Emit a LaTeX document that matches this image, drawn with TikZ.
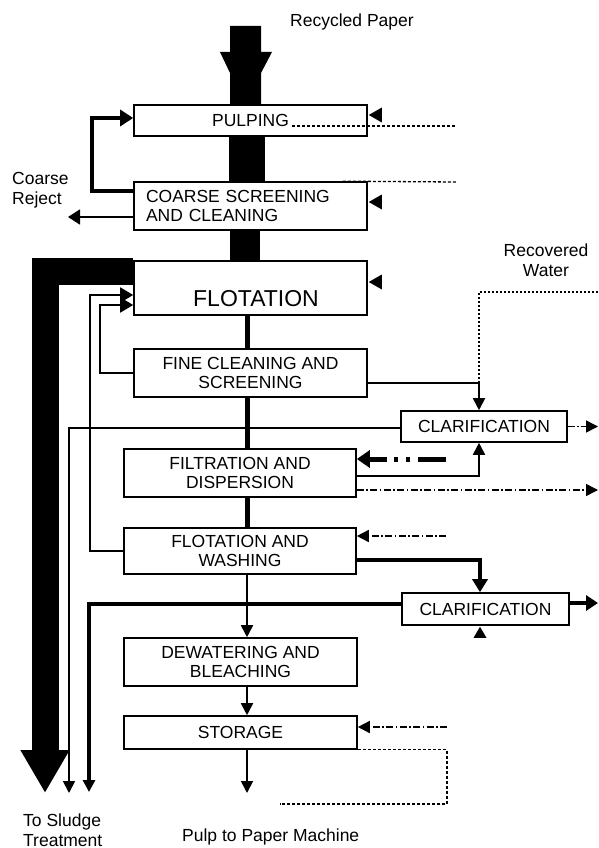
\documentclass[tikz,border=0pt]{standalone}
\usepackage{fontspec}
\setmainfont{Liberation Sans}
\usetikzlibrary{arrows.meta,positioning,calc}

\begin{document}
\begin{tikzpicture}[
		x=1pt, y=-1pt,
		% Styles
		stage/.style={rectangle, draw=black, line width=1.6pt, fill=white, minimum width=233pt, minimum height=48pt, inner sep=0pt, align=center, font=\fontsize{17.5}{19}\selectfont},
		clarifier/.style={stage, minimum width=166pt, minimum height=31pt},
		note/.style={font=\fontsize{17.5}{19.5}\selectfont, inner sep=0pt},
		% Arrows
		pulpflow/.style={line width=5pt},
		thinflow/.style={line width=1.8pt},
		thickflow/.style={line width=4.5pt},
		flowtip/.style={-{Triangle[length=12pt, width=12pt]}},
		bigtip/.style={-{Triangle[length=13pt, width=15pt]}},
		waterflow/.style={line width=1.5pt, dash pattern=on 7pt off 2.5pt on 1.5pt off 2.5pt},
		waterdot/.style={line width=1.5pt, dash pattern=on 1.6pt off 2.4pt},
		dotline/.style={line width=1.3pt, dash pattern=on 3pt off 2pt},
		]
		\useasboundingbox (0,0) rectangle (598,848);

		% Labels
		\node[note, anchor=base] (paperlbl) at (352,27) {Recycled Paper};
		\node[note, anchor=base west, align=left] (rejectlbl) at (12,204) {Coarse\\Reject};
		\node[note, anchor=base, align=center] (waterlbl) at (546,276) {Recovered\\Water};
		\node[note, anchor=base west, align=left] (sludgelbl) at (23,846) {To Sludge\\Treatment};
		\node[note, anchor=base west] (machinelbl) at (182,841) {Pulp to Paper Machine};

		% Process stages
		\node[stage, minimum height=31pt] (pulp) at (250.5,120.5) {PULPING};
		\node[stage, text width=209pt, inner xsep=12pt, align=left] (coarse) at (250.5,206) {COARSE SCREENING\\AND CLEANING};
		\node[stage, minimum height=54pt] (flot) at (250.5,288) {};
		\node[font=\fontsize{23}{25}\selectfont, inner sep=0pt] (flottext) at (256,298.5) {FLOTATION};
		\node[stage] (fine) at (250.5,373) {FINE CLEANING AND\\SCREENING};
		\node[clarifier] (clar1) at (484,426.5) {CLARIFICATION};
		\node[stage, minimum width=232pt] (filt) at (240,473) {FILTRATION AND\\DISPERSION};
		\node[stage, minimum width=232pt, minimum height=46pt] (fw) at (240,551) {FLOTATION AND\\WASHING};
		\node[clarifier, minimum width=167pt, minimum height=32pt] (clar2) at (485.5,609) {CLARIFICATION};
		\node[stage] (dew) at (240.5,662) {DEWATERING AND\\BLEACHING};
		\node[stage, minimum height=33pt] (stor) at (240.5,732.5) {STORAGE};

		% Free ends and junctions
		\coordinate (paper) at (245.5,26);
		\coordinate (col) at (247,0);
		\coordinate (reject) at (68,217);
		\coordinate (rwin) at (598,292);
		\coordinate (jct1) at (479,383);
		\coordinate (jct2) at (480,560);
		\coordinate (rightedge) at (598,0);
		\coordinate (filtin) at (446,459);
		\coordinate (fwin) at (446,536);
		\coordinate (storin) at (447,727);
		\coordinate (storloop) at (280,804);
		\coordinate (pulpdot) at (456,126);
		\coordinate (coarsedot) at (456,182);
		\coordinate (sludge) at (45,793);
		\coordinate (sludge1) at (69,793);
		\coordinate (sludge2) at (89,792);
		\coordinate (machine) at (247,793);

		% Connections
		% Recycled paper → Pulping → Coarse screening → Flotation
		\fill ($(paper)+(-15.5,0)$) -- ($(paper)+(15.5,0)$) -- ($(paper)+(15.5,26)$) -- ($(paper)+(26.5,26)$)
			-- ($(paper)+(15.5,47)$) -- ($(pulp.north)+(10.5,0)$) -- ($(pulp.north)+(-20.5,0)$)
			-- ($(paper)+(-15.5,47)$) -- ($(paper)+(-25.5,26)$) -- ($(paper)+(-15.5,26)$) -- cycle;
		\draw[line width=36pt] ($(pulp.south)+(-4,0)$) -- ($(coarse.north)+(-4,0)$);
		\draw[line width=30pt] ($(coarse.south)+(-5.5,0)$) -- ($(flot.north)+(-5.5,0)$);

		% Coarse screening recycle and reject
		\draw[thickflow, -{Triangle[length=13pt, width=16pt]}] ($(coarse.west)+(0,-15)$) -| ($(pulp.west)+(-41,-2.5)$) -- ($(pulp.west)+(0,-2.5)$);
		\draw[thinflow, -{Triangle[length=12pt, width=15pt]}] (coarse.west |- reject) -- (reject);

		% Flotation reject to sludge
		\draw[line width=27pt, -{Triangle[length=43pt, width=46pt]}] ($(flot.north west)+(0,11)$) -| (sludge);

		% Main stock line
		\draw[pulpflow] (flot.south -| col) -- (fine.north -| col);
		\draw[pulpflow] (fine.south -| col) -- (filt.north -| col);
		\draw[pulpflow] (filt.south -| col) -- (fw.north -| col);
		\draw[thinflow, flowtip] (fw.south -| col) -- (dew.north -| col);
		\draw[thinflow, flowtip] (dew.south -| col) -- (stor.north -| col);
		\draw[thinflow, flowtip] (stor.south -| col) -- (machine);

		% Recycles back to flotation
		\draw[thinflow, bigtip] (fine.west) -| ($(flot.west)+(-33,17)$) -- ($(flot.west)+(0,17)$);
		\draw[thinflow, bigtip] (fw.west) -| ($(flot.west)+(-43,7)$) -- ($(flot.west)+(0,7)$);

		% Water to first clarification
		\draw[waterdot] (rwin) -| (jct1);
		\draw[thinflow, flowtip] ($(fine.east)+(0,10)$) -| (clar1.north -| jct1);
		\draw[thinflow, flowtip] ($(filt.east)+(0,3)$) -| (clar1.south -| jct1);
		\draw[waterflow, flowtip] (clar1.east) -- (clar1.east -| rightedge);
		\draw[thinflow, flowtip] ($(clar1.west)+(0,1.5)$) -| (sludge1);

		% Filtration water
		\draw[line width=5pt, dash pattern=on 28pt off 8pt on 4pt off 8pt on 4pt off 7pt on 60pt, -{Triangle[length=13pt, width=17pt]}] (filtin) -- (filtin -| filt.east);
		\draw[waterflow, flowtip] ($(filt.east)+(0,17)$) -- ($(filt.east -| rightedge)+(0,17)$);

		% Flotation and washing water
		\draw[waterflow, flowtip] (fwin) -- (fwin -| fw.east);
		\draw[thickflow, -{Triangle[length=13pt, width=15pt]}] (fw.east |- jct2) -| (clar2.north -| jct2);
		\draw[thickflow, -{Triangle[length=12pt, width=15pt]}] ($(clar2.east)+(0,-6)$) -- ($(clar2.east -| rightedge)+(0,-6)$);
		\fill ($(clar2.south)+(-5.5,1)$) -- ++(6.5,11) -- ++(-13,0) -- cycle;
		\draw[line width=3.5pt, flowtip] ($(clar2.west)+(0,-5)$) -| (sludge2);

		% Storage water
		\draw[waterflow, flowtip] (storin) -- (storin -| stor.east);
		\draw[dotline] (stor.south east) -| (storin |- storloop) -- (storloop);

		% Water supply lines
		\draw[dotline] ($(pulp.east)+(-76,5.5)$) -- (pulpdot);
		\draw[dotline] ($(coarse.north east)+(-25,0)$) -- (coarsedot);
		\foreach \st/\dy in {pulp/-5.5, coarse/-4, flot/-6}
			\fill ($(\st.east)+(1,\dy)$) -- ++(13,-7.5) -- ++(0,15) -- cycle;

	\end{tikzpicture}
\end{document}
